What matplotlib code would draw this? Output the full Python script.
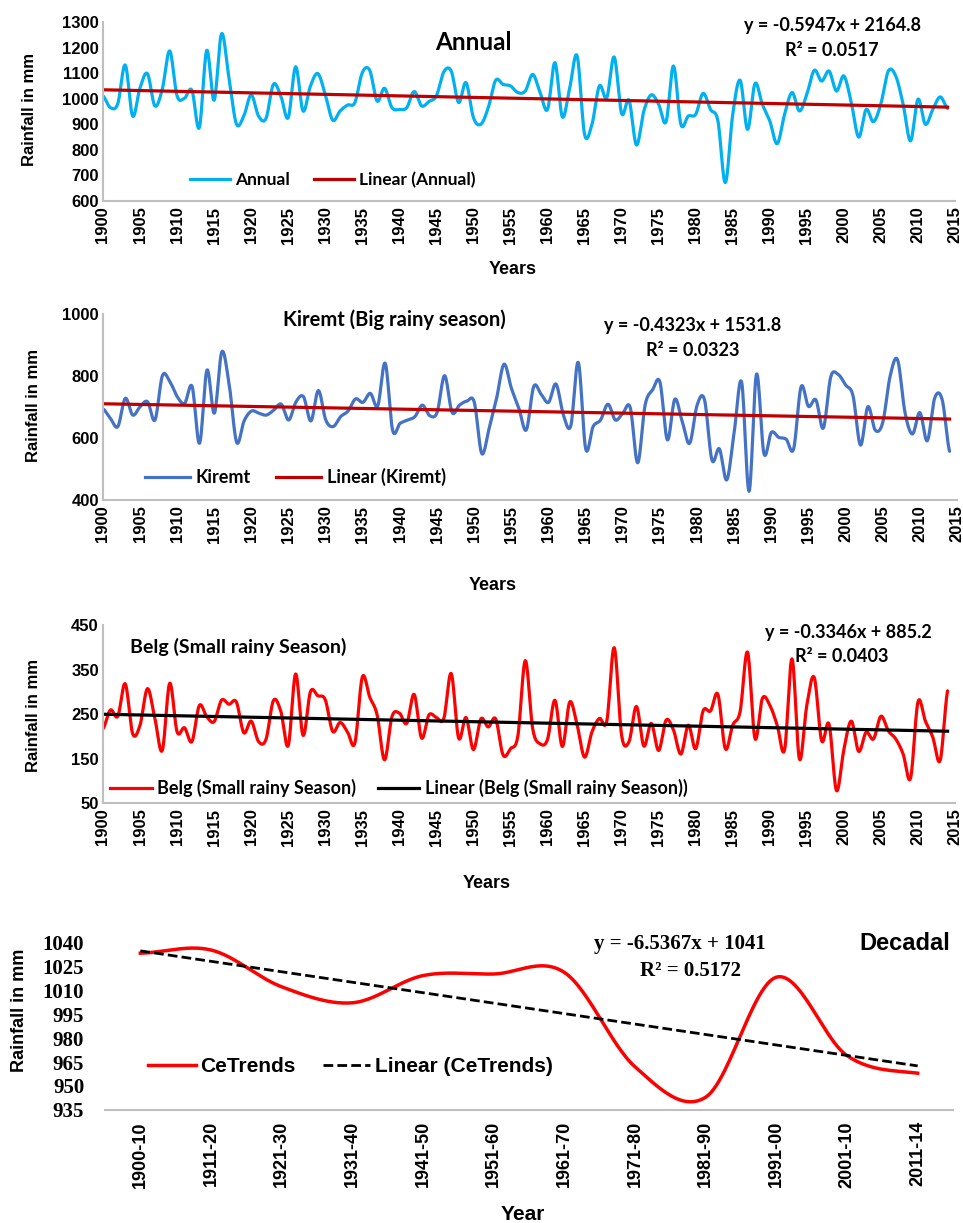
import numpy as np
import matplotlib
matplotlib.use("Agg")
import matplotlib.pyplot as plt
from matplotlib.lines import Line2D

# ---- data ----
years = list(range(1900, 2015))

annual = [1011, 965, 981, 1132, 932, 1043, 1098, 972, 1037, 1187,
          1011, 1002, 1033, 887, 1189, 994, 1254, 1082, 902, 932,
          1015, 932, 923, 1056, 1011, 926, 1125, 952, 1050, 1098,
          1017, 916, 952, 975, 985, 1102, 1111, 991, 1041, 965,
          958, 965, 1028, 972, 989, 1011, 1105, 1108, 985, 1063,
          926, 900, 965, 1072, 1056, 1050, 1024, 1030, 1095, 1024,
          958, 1141, 929, 1043, 1167, 861, 900, 1050, 1004, 1163,
          942, 994, 819, 952, 1015, 978, 910, 1128, 900, 932,
          939, 1021, 958, 913, 672, 939, 1072, 880, 1059, 978,
          913, 824, 939, 1024, 952, 1017, 1111, 1069, 1108, 1030,
          1089, 985, 850, 958, 910, 981, 1108, 1089, 978, 835,
          998, 900, 958, 1007, 962]

kiremt = [694, 663, 637, 728, 674, 701, 717, 658, 801, 782,
          733, 712, 766, 583, 819, 680, 878, 771, 586, 655,
          687, 680, 674, 690, 709, 658, 717, 733, 655, 753,
          658, 637, 669, 687, 726, 715, 744, 704, 841, 625,
          647, 658, 669, 706, 672, 683, 801, 683, 706, 719,
          715, 550, 631, 728, 838, 760, 696, 626, 766, 741,
          715, 774, 674, 640, 844, 565, 637, 658, 709, 658,
          680, 698, 520, 706, 755, 780, 594, 725, 653, 583,
          706, 723, 529, 565, 465, 620, 780, 428, 806, 550,
          618, 602, 596, 565, 765, 702, 723, 632, 797, 805,
          771, 736, 577, 701, 625, 650, 800, 852, 682, 613,
          682, 591, 729, 724, 557]

belg = [217, 259, 245, 318, 206, 225, 307, 240, 168, 319,
        210, 219, 188, 269, 244, 233, 281, 272, 277, 208,
        234, 188, 193, 280, 256, 179, 340, 202, 300, 291,
        282, 211, 231, 210, 185, 333, 288, 248, 147, 244,
        252, 229, 294, 196, 248, 242, 240, 341, 196, 242,
        170, 239, 221, 239, 158, 172, 201, 370, 217, 183,
        193, 281, 177, 277, 225, 153, 210, 240, 234, 399,
        202, 188, 267, 178, 229, 168, 236, 214, 160, 225,
        172, 257, 257, 294, 172, 225, 256, 389, 195, 285,
        270, 225, 170, 374, 149, 270, 332, 190, 227, 78,
        170, 234, 166, 209, 194, 245, 212, 194, 160, 106,
        277, 234, 198, 146, 302]

decades = ["1900-10", "1911-20", "1921-30", "1931-40", "1941-50", "1951-60",
           "1961-70", "1971-80", "1981-90", "1991-00", "2001-10", "2011-14"]
cetrends = [1033, 1035, 1012, 1002, 1019, 1020, 1021, 962, 943, 1018, 969, 958]

# trend line coefficients printed on the chart (slope, intercept)
annual_fit = (-0.5947, 2164.8)
kiremt_fit = (-0.4323, 1531.8)
belg_fit = (-0.3346, 885.2)
decadal_fit = (-6.5367, 1041.0)

W, H = 963, 1223
SANS = ["Liberation Sans", "DejaVu Sans"]
CAL = ["Lato", "DejaVu Sans"]
NARROW = ["Liberation Sans Narrow", "Liberation Sans", "DejaVu Sans"]
SERIF = ["Liberation Serif", "DejaVu Serif"]
GRID = "#BFBFBF"
DASH = (0, (3.5, 1.5))


def excel_smooth(x, y, n=14):
    # cardinal spline like Excel's "smoothed line"
    x = np.asarray(x, float)
    y = np.asarray(y, float)
    yp = np.concatenate([[y[0]], y, [y[-1]]])
    m = (yp[2:] - yp[:-2]) / 2
    t = np.linspace(0, 1, n, endpoint=False)
    h00 = 2 * t**3 - 3 * t**2 + 1
    h10 = t**3 - 2 * t**2 + t
    h01 = -2 * t**3 + 3 * t**2
    h11 = t**3 - t**2
    xs, ys = [], []
    for i in range(len(y) - 1):
        xs.append(x[i] + t * (x[i + 1] - x[i]))
        ys.append(h00 * y[i] + h10 * m[i] + h01 * y[i + 1] + h11 * m[i + 1])
    xs.append([x[-1]])
    ys.append([y[-1]])
    return np.concatenate(xs), np.concatenate(ys)


def px_axes(l, t, r, b):
    return fig.add_axes([l / W, 1 - b / H, (r - l) / W, (b - t) / H])


def ftext(x, y, s, **kw):
    fig.text(x / W, 1 - y / H, s, **kw)


def style_axes(ax, left_spine=True):
    for side in ["top", "right"]:
        ax.spines[side].set_visible(False)
    ax.spines["bottom"].set_color(GRID)
    ax.spines["bottom"].set_linewidth(1.5)
    if left_spine:
        ax.spines["left"].set_color(GRID)
        ax.spines["left"].set_linewidth(1.5)
    else:
        ax.spines["left"].set_visible(False)
    ax.tick_params(length=0)


def year_panel(ax, values, color, fit, fit_color, ylim, yticks):
    sx, sy = excel_smooth(years, values)
    ax.plot(sx, sy, color=color, lw=2.3, solid_capstyle="round")
    fx = np.array([years[0], years[-1]])
    ax.plot(fx, fit[0] * fx + fit[1], color=fit_color, lw=2.3)
    ax.set_xlim(1900, 2015)
    ax.set_ylim(*ylim)
    ax.set_yticks(yticks)
    ax.set_xticks(range(1900, 2016, 5))
    ax.set_xticklabels([str(v) for v in range(1900, 2016, 5)], rotation=90,
                       family=SANS, weight="bold", fontsize=12)
    for lab in ax.get_yticklabels():
        lab.set_family(SANS)
        lab.set_weight("bold")
        lab.set_fontsize(12)
    ax.tick_params(axis="x", pad=4)
    ax.tick_params(axis="y", pad=3)
    style_axes(ax)


fig = plt.figure(figsize=(W / 100, H / 100), dpi=100)

# ---- Annual ----
ax1 = px_axes(103, 22, 955, 201)
year_panel(ax1, annual, "#00B0F0", annual_fit, "#C00000", (600, 1300),
           range(600, 1301, 100))
ftext(473, 42, "Annual", ha="center", va="center", family=CAL, weight="bold", fontsize=17.5)
ftext(832, 25, "y = -0.5947x + 2164.8", ha="center", va="center", family=CAL, weight="bold", fontsize=13)
ftext(832, 50, "R² = 0.0517", ha="center", va="center", family=CAL, weight="bold", fontsize=13)
ftext(30, 110, "Rainfall in mm", rotation=90, ha="center", va="center", family=SANS, weight="bold", fontsize=12)
ftext(513, 270, "Years", ha="center", va="center", family=SANS, weight="bold", fontsize=13)
ax1.legend([Line2D([], [], color="#00B0F0", lw=2.3), Line2D([], [], color="#C00000", lw=2.3)],
           ["Annual", "Linear (Annual)"], loc="center left",
           bbox_to_anchor=(190 / W, 1 - 180 / H), bbox_transform=fig.transFigure,
           ncol=2, frameon=False, borderpad=0, borderaxespad=0, handlelength=2.3,
           handletextpad=0.3, columnspacing=1.4,
           prop={"family": CAL, "weight": "bold", "size": 12.5})

# ---- Kiremt ----
ax2 = px_axes(103, 314, 957, 500)
year_panel(ax2, kiremt, "#4472C4", kiremt_fit, "#C00000", (400, 1000),
           range(400, 1001, 200))
ftext(394, 320, "Kiremt (Big rainy season)", ha="center", va="center", family=CAL, weight="bold", fontsize=14.5)
ftext(693, 325, "y = -0.4323x + 1531.8", ha="center", va="center", family=CAL, weight="bold", fontsize=13)
ftext(693, 351, "R² = 0.0323", ha="center", va="center", family=CAL, weight="bold", fontsize=13)
ftext(33, 405, "Rainfall in mm", rotation=90, ha="center", va="center", family=SANS, weight="bold", fontsize=12)
ftext(493, 585, "Years", ha="center", va="center", family=SANS, weight="bold", fontsize=13)
ax2.legend([Line2D([], [], color="#4472C4", lw=2.3), Line2D([], [], color="#C00000", lw=2.3)],
           ["Kiremt", "Linear (Kiremt)"], loc="center left",
           bbox_to_anchor=(145 / W, 1 - 477 / H), bbox_transform=fig.transFigure,
           ncol=2, frameon=False, borderpad=0, borderaxespad=0, handlelength=2.5,
           handletextpad=0.3, columnspacing=1.4,
           prop={"family": CAL, "weight": "bold", "size": 13})

# ---- Belg ----
ax3 = px_axes(103, 625, 955, 803)
year_panel(ax3, belg, "#FF0000", belg_fit, "black", (50, 450),
           range(50, 451, 100))
ftext(130, 647, "Belg (Small rainy Season)", ha="left", va="center", family=CAL, weight="bold", fontsize=14)
ftext(848, 632, "y = -0.3346x + 885.2", ha="center", va="center", family=CAL, weight="bold", fontsize=13)
ftext(842, 657, "R² = 0.0403", ha="center", va="center", family=CAL, weight="bold", fontsize=13)
ftext(33, 715, "Rainfall in mm", rotation=90, ha="center", va="center", family=SANS, weight="bold", fontsize=12)
ftext(487, 883, "Years", ha="center", va="center", family=SANS, weight="bold", fontsize=13)
ax3.legend([Line2D([], [], color="#FF0000", lw=2.3), Line2D([], [], color="black", lw=2.3)],
           ["Belg (Small rainy Season)", "Linear (Belg (Small rainy Season))"], loc="center left",
           bbox_to_anchor=(110 / W, 1 - 788 / H), bbox_transform=fig.transFigure,
           ncol=2, frameon=False, borderpad=0, borderaxespad=0, handlelength=2.3,
           handletextpad=0.3, columnspacing=1.2,
           prop={"family": CAL, "weight": "bold", "size": 13})

# ---- Decadal ----
ax4 = px_axes(105, 942, 953, 1110)
xd = np.arange(1, len(decades) + 1)
sx, sy = excel_smooth(xd, cetrends, n=30)
ax4.plot(sx, sy, color="#FF0000", lw=2.5)
fx = np.array([xd[0], xd[-1]])
ax4.plot(fx, decadal_fit[0] * fx + decadal_fit[1], color="black", lw=2, ls=DASH)
ax4.set_xlim(0.5, len(decades) + 0.5)
ax4.set_ylim(935, 1040)
ax4.set_yticks(range(935, 1041, 15))
ax4.set_xticks(xd)
ax4.set_xticklabels(decades, rotation=90, family=SANS, weight="bold", fontsize=13)
for lab in ax4.get_yticklabels():
    lab.set_family(SERIF)
    lab.set_weight("bold")
    lab.set_fontsize(15)
ax4.tick_params(axis="x", pad=8)
ax4.tick_params(axis="y", pad=15)
style_axes(ax4, left_spine=False)
ftext(680, 944, "y = -6.5367x + 1041", ha="center", va="center", family=SERIF, weight="bold", fontsize=15)
ftext(690, 971, "R² = 0.5172", ha="center", va="center", family=SERIF, weight="bold", fontsize=15)
ftext(905, 944, "Decadal", ha="center", va="center", family=NARROW, weight="bold", fontsize=17)
ftext(20, 1010, "Rainfall in mm", rotation=90, ha="center", va="center", family=SANS, weight="bold", fontsize=13)
ftext(523, 1214, "Year", ha="center", va="center", family=NARROW, weight="bold", fontsize=15)
ax4.legend([Line2D([], [], color="#FF0000", lw=2.5), Line2D([], [], color="black", lw=2, ls=DASH)],
           ["CeTrends", "Linear (CeTrends)"], loc="center left",
           bbox_to_anchor=(148 / W, 1 - 1067 / H), bbox_transform=fig.transFigure,
           ncol=2, frameon=False, borderpad=0, borderaxespad=0, handlelength=2.3,
           handletextpad=0.2, columnspacing=1.3,
           prop={"family": NARROW, "weight": "bold", "size": 15})

fig.savefig("out.png", dpi=100)
